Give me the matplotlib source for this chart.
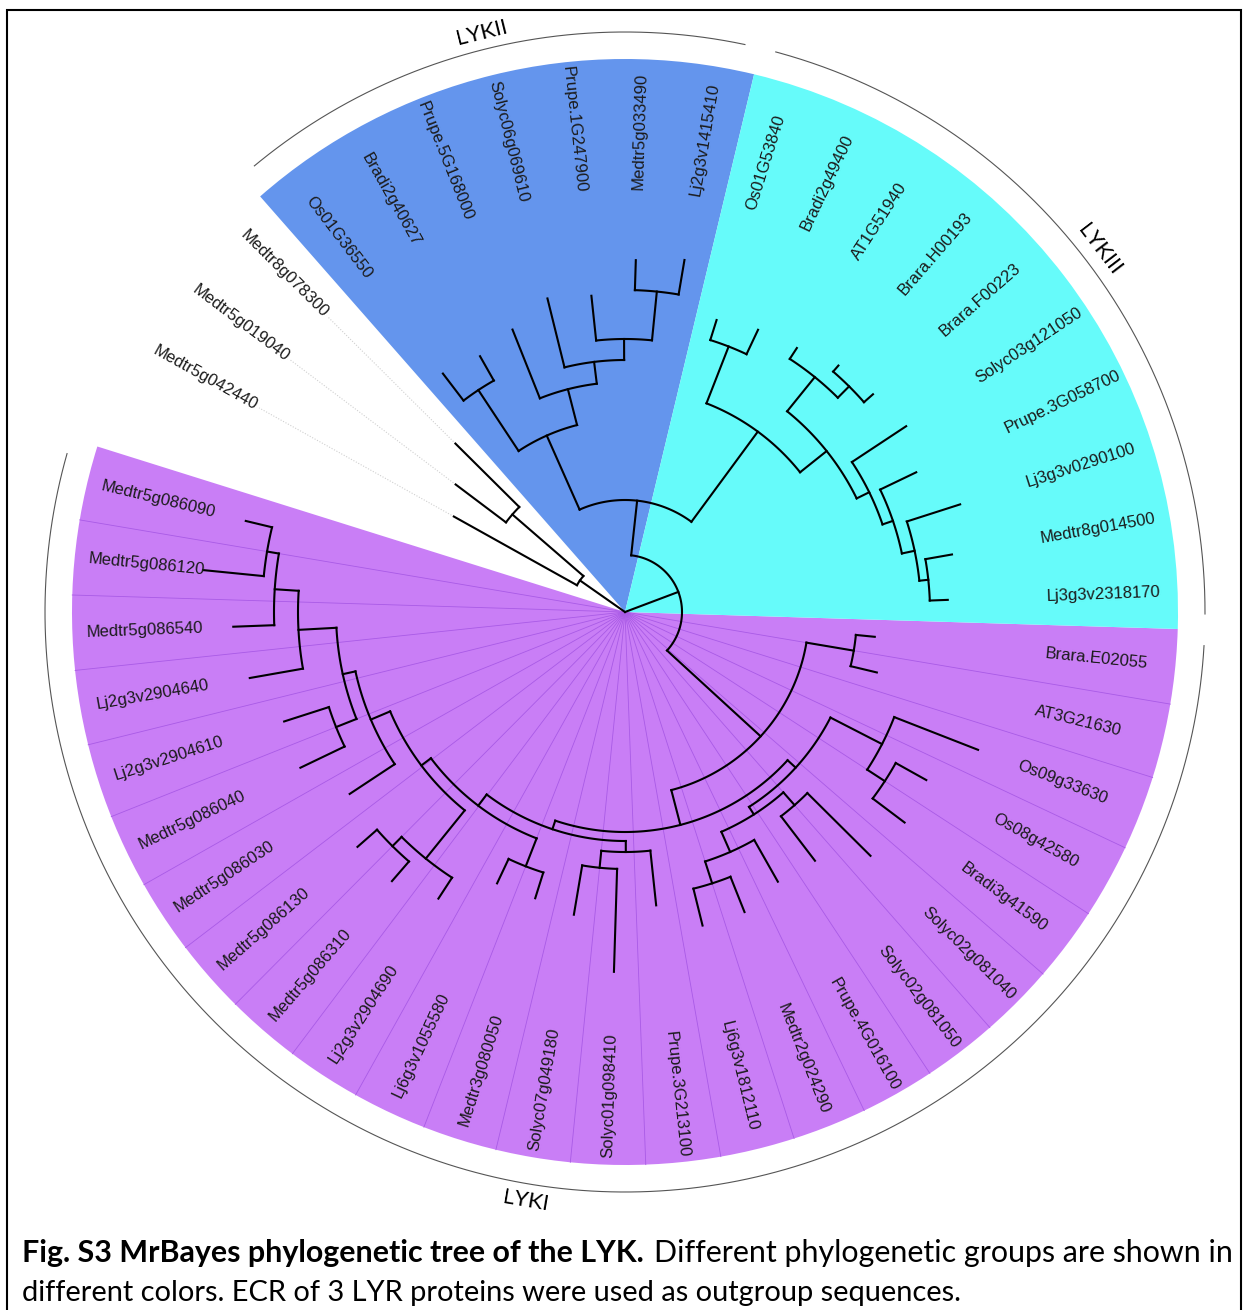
import numpy as np
import matplotlib
matplotlib.use("Agg")
import matplotlib.pyplot as plt
from matplotlib.patches import Rectangle

# MrBayes tree, branch lengths.
# Children are listed counter-clockwise (as drawn).
LYKI_NWK = (
    "((((((((((Medtr5g086090:0.27,Medtr5g086120:0.61):0.12,Medtr5g086540:0.41):0.24,"
    "Lj2g3v2904640:0.54):0.38,(Lj2g3v2904610:0.47,Medtr5g086040:0.49):0.22):0.13,"
    "Medtr5g086030:0.54):0.21,((Medtr5g086130:0.26,Medtr5g086310:0.26):0.13,"
    "Lj2g3v2904690:0.25):0.62):0.12,(Lj6g3v1055580:0.27,Medtr3g080050:0.27):0.30):0.14,"
    "((Solyc07g049180:0.50,Solyc01g098410:1.03):0.17,Prupe.3G213100:0.55):0.11):0.09,"
    "((((Lj6g3v1812110:0.38,Medtr2g024290:0.38):0.23,Prupe.4G016100:0.48):0.22,"
    "(Solyc02g081050:0.56,Solyc02g081040:0.89):0.17):0.09,"
    "((Bradi3g41590:0.40,Os08g42580:0.35):0.21,Os09g33630:0.90):0.58):0.11):0.36,"
    "(AT3G21630:0.27,Brara.E02055:0.19):0.48)"
)
LYKIII_NWK = (
    "((((((Lj3g3v2318170:0.18,Medtr8g014500:0.27):0.09,Lj3g3v0290100:0.56):0.13,"
    "Prupe.3G058700:0.40):0.11,Solyc03g121050:0.65):0.14,((Brara.F00223:0.12,"
    "Brara.H00193:0.08):0.16,AT1G51940:0.13):0.44):0.34,"
    "(Bradi2g49400:0.27,Os01G53840:0.21):0.61)"
)
LYKII_NWK = (
    "(((((Lj2g3v1415410:0.35,Medtr5g033490:0.30):0.49,Prupe.1G247900:0.45):0.21,"
    "Solyc06g069610:0.71):0.22,Prupe.5G168000:0.74):0.37,"
    "(Bradi2g40627:0.28,Os01G36550:0.34):0.73)"
)
OUTGROUP_NWK = "((Medtr8g078300:0.90,Medtr5g019040:0.63):0.94,Medtr5g042440:1.41)"

TREE_NWK = f"(({LYKI_NWK}:1.27,({LYKIII_NWK}:1.12,{LYKII_NWK}:0.81):0.55):0.57,{OUTGROUP_NWK}:0.55);"

CLADE_NAMES = ["LYKI", "LYKII", "LYKIII"]
CLADE_TREES = [LYKI_NWK, LYKII_NWK, LYKIII_NWK]
CLADE_COLORS = ["#C97EF6", "#6495ED", "#66FBFA"]

CAPTION_BOLD = "Fig. S3 MrBayes phylogenetic tree of the LYK."
CAPTION_LINE1 = "Different phylogenetic groups are shown in"
CAPTION_LINE2 = "different colors. ECR of 3 LYR proteins were used as outgroup sequences."

W, H = 1247, 1310
CX, CY = 625, 612          # tree centre in pixels
R_MAX = 6.2                # polar axes radius (1 unit = 100 px)
LABEL_R = 4.22
HILIGHT_R = 5.53
STRIP_R = 5.80
STRIP_LABEL_R = 5.97
START_DEG = 166.5
CAP_FONT = ["Lato", "Liberation Sans", "DejaVu Sans"]


def parse_newick(s):
    pos = 0

    def read():
        nonlocal pos
        node = {"children": [], "len": 0.0}
        if s[pos] == "(":
            pos += 1
            node["children"].append(read())
            while s[pos] == ",":
                pos += 1
                node["children"].append(read())
            pos += 1
        start = pos
        while s[pos] not in ":,);":
            pos += 1
        node["name"] = s[start:pos]
        if s[pos] == ":":
            pos += 1
            start = pos
            while s[pos] not in ",);":
                pos += 1
            node["len"] = float(s[start:pos])
        return node

    return read()


def tip_names(node):
    if not node["children"]:
        return [node["name"]]
    out = []
    for c in node["children"]:
        out += tip_names(c)
    return out


tree = parse_newick(TREE_NWK)
tips = []


def layout(node, depth):
    node["depth"] = depth + node["len"]
    if not node["children"]:
        node["y"] = len(tips)
        tips.append(node)
    else:
        for c in node["children"]:
            layout(c, node["depth"])
        node["y"] = np.mean([c["y"] for c in node["children"]])


layout(tree, 0.0)
STEP = 360.0 / (len(tips) + 1)


def theta(y):
    return np.deg2rad(START_DEG + y * STEP)


fig = plt.figure(figsize=(W / 100, H / 100), dpi=100)
ax = fig.add_axes([(CX - 620) / W, (H - CY - 620) / H, 1240 / W, 1240 / H], projection="polar")
ax.set_ylim(0, R_MAX)
ax.set_axis_off()

# clade highlights, strips and strip labels
y_of = {t["name"]: t["y"] for t in tips}
for name, nwk, color in zip(CLADE_NAMES, CLADE_TREES, CLADE_COLORS):
    ys = [y_of[n] for n in tip_names(parse_newick(nwk + ";"))]
    y0, y1 = min(ys), max(ys)
    t0, t1 = theta(y0 - 0.5), theta(y1 + 0.5)
    ax.bar((t0 + t1) / 2, HILIGHT_R, width=t1 - t0, bottom=0, color=color,
           edgecolor="none", zorder=0)
    if name == "LYKI":
        for k in range(y0, y1):
            tk = theta(k + 0.5)
            ax.plot([tk, tk], [0, HILIGHT_R], color="#A95BE6", lw=0.6, zorder=1)
    ts = np.linspace(theta(y0 - 0.3), theta(y1 + 0.3), 200)
    ax.plot(ts, np.full_like(ts, STRIP_R), color="#555555", lw=0.8, zorder=1)
    mid = (START_DEG + (y0 + y1) / 2 * STEP) % 360
    rot = mid - 90 if mid < 180 else mid + 90
    ax.text(np.deg2rad(mid), STRIP_LABEL_R, name, rotation=rot, rotation_mode="anchor",
            ha="center", va="center", fontsize=16, family=CAP_FONT)

# dotted leaders for the outgroup
for n in tip_names(parse_newick(OUTGROUP_NWK + ";")):
    t = next(tp for tp in tips if tp["name"] == n)
    th = theta(t["y"])
    ax.plot([th, th], [t["depth"], LABEL_R - 0.03], color="#D0D0D0", lw=0.8,
            linestyle=(0, (1, 1.5)), zorder=1)


def draw(node):
    for c in node["children"]:
        th = theta(c["y"])
        ax.plot([th, th], [node["depth"], c["depth"]], color="black", lw=1.5,
                solid_capstyle="projecting", zorder=3)
        draw(c)
    if node["children"] and node["depth"] > 0:
        ts = np.linspace(theta(node["children"][0]["y"]), theta(node["children"][-1]["y"]), 80)
        ax.plot(ts, np.full_like(ts, node["depth"]), color="black", lw=1.5, zorder=3)


draw(tree)

# tip labels
for t in tips:
    deg = (START_DEG + t["y"] * STEP) % 360
    if 90 < deg < 270:
        rot, ha = deg - 180, "right"
    else:
        rot, ha = deg, "left"
    ax.text(np.deg2rad(deg), LABEL_R, t["name"], rotation=rot, rotation_mode="anchor",
            ha=ha, va="center", fontsize=12, family="Liberation Sans", color="#1a1a1a",
            zorder=4)

# frame
fig.add_artist(Rectangle((7 / W, -0.01), 1234 / W, (1 - 10 / H) + 0.01,
                         transform=fig.transFigure, fill=False, lw=1.5, ec="black"))

# caption: second line spans ~943 px, first line is justified 22..1233 px
line2 = fig.text(22 / W, 1 - 1293 / H, CAPTION_LINE2, fontsize=20, family=CAP_FONT, va="center")
bold = fig.text(22 / W, 1 - 1253 / H, CAPTION_BOLD, fontsize=20, family=CAP_FONT,
                weight="bold", va="center")
line1 = fig.text(1233 / W, 1 - 1253 / H, CAPTION_LINE1, fontsize=20, family=CAP_FONT,
                 ha="right", va="center")
fig.canvas.draw()
size2 = 20 * 943 / line2.get_window_extent().width
size1 = 20 * 1200 / (bold.get_window_extent().width + line1.get_window_extent().width)
line2.set_fontsize(size2)
bold.set_fontsize(size1)
line1.set_fontsize(size1)

fig.savefig("out.png", dpi=100)
print("Saved out.png")
